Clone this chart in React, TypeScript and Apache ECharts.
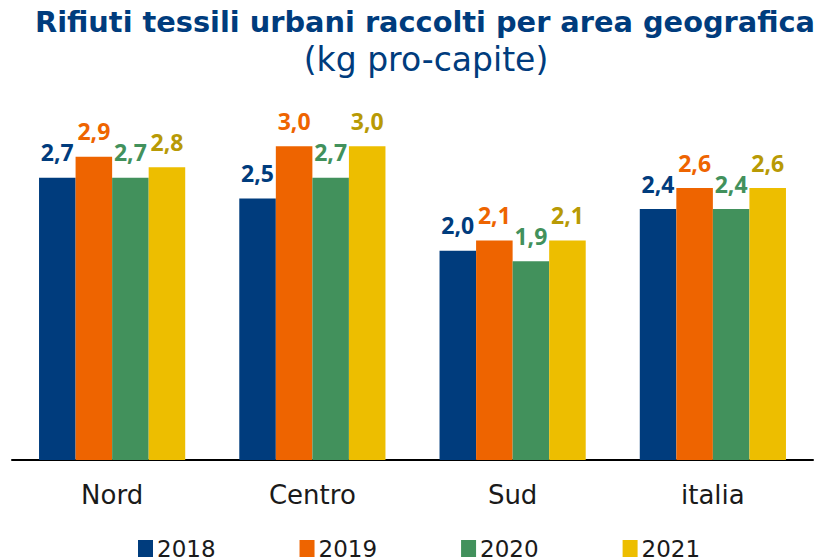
import React, { useEffect, useRef } from "react";
import * as echarts from "echarts";

const categories = ["Nord", "Centro", "Sud", "italia"];
const years = ["2018", "2019", "2020", "2021"];
const values2018 = [2.7, 2.5, 2.0, 2.4];
const values2019 = [2.9, 3.0, 2.1, 2.6];
const values2020 = [2.7, 2.7, 1.9, 2.4];
const values2021 = [2.8, 3.0, 2.1, 2.6];
const seriesValues = [values2018, values2019, values2020, values2021];
const barColors = ["#003C7D", "#EE6400", "#42915C", "#EDBE00"];
const labelColors = ["#003C7D", "#EE6400", "#42915C", "#B89A05"];

const WIDE = "'DejaVu Sans', sans-serif";
const LABEL = "'Noto Sans', sans-serif";

export default function App() {
  const ref = useRef<HTMLDivElement>(null);
  useEffect(() => {
    if (!ref.current) return;
    const chart = echarts.init(ref.current, null, { renderer: "svg" });
    chart.setOption({
      animation: false,
      backgroundColor: "#ffffff",
      title: [
        {
          text: "Rifiuti tessili urbani raccolti per area geografica",
          left: 420,
          textAlign: "center",
          top: 2,
          textStyle: { fontFamily: WIDE, fontSize: 28.8, fontWeight: "bold", color: "#003C7D" },
        },
        {
          text: "(kg pro-capite)",
          left: 421,
          textAlign: "center",
          top: 38,
          textStyle: { fontFamily: WIDE, fontSize: 33, fontWeight: "normal", color: "#003C7D" },
        },
      ],
      legend: {
        data: years,
        top: 532,
        left: 133,
        itemWidth: 15,
        itemHeight: 17,
        itemGap: 84,
        icon: "rect",
        textStyle: { fontFamily: WIDE, fontSize: 23, color: "#1a1a1a", padding: [0, 0, 0, -1] },
      },
      grid: { left: 12, right: 6, top: 94, bottom: 100, containLabel: false },
      xAxis: {
        type: "category",
        data: categories,
        axisLine: { lineStyle: { color: "#000000", width: 2 } },
        axisTick: { show: false },
        axisLabel: { fontFamily: WIDE, fontSize: 26, color: "#1a1a1a", margin: 22 },
      },
      yAxis: {
        type: "value",
        min: 0,
        max: 3.5,
        show: false,
        splitLine: { show: false },
      },
      series: years.map((y, i) => ({
        name: y,
        type: "bar",
        data: seriesValues[i],
        barGap: "0%",
        barCategoryGap: "27%",
        itemStyle: { color: barColors[i] },
        label: {
          show: true,
          position: "top",
          distance: 14,
          fontFamily: LABEL,
          fontSize: 23,
          fontWeight: "bold",
          color: labelColors[i],
          formatter: (p: any) => p.value.toFixed(1).replace(".", ","),
        },
      })),
    });
    return () => chart.dispose();
  }, []);
  return <div ref={ref} style={{ width: 819, height: 560, position: "absolute", left: 0, top: 0 }} />;
}
